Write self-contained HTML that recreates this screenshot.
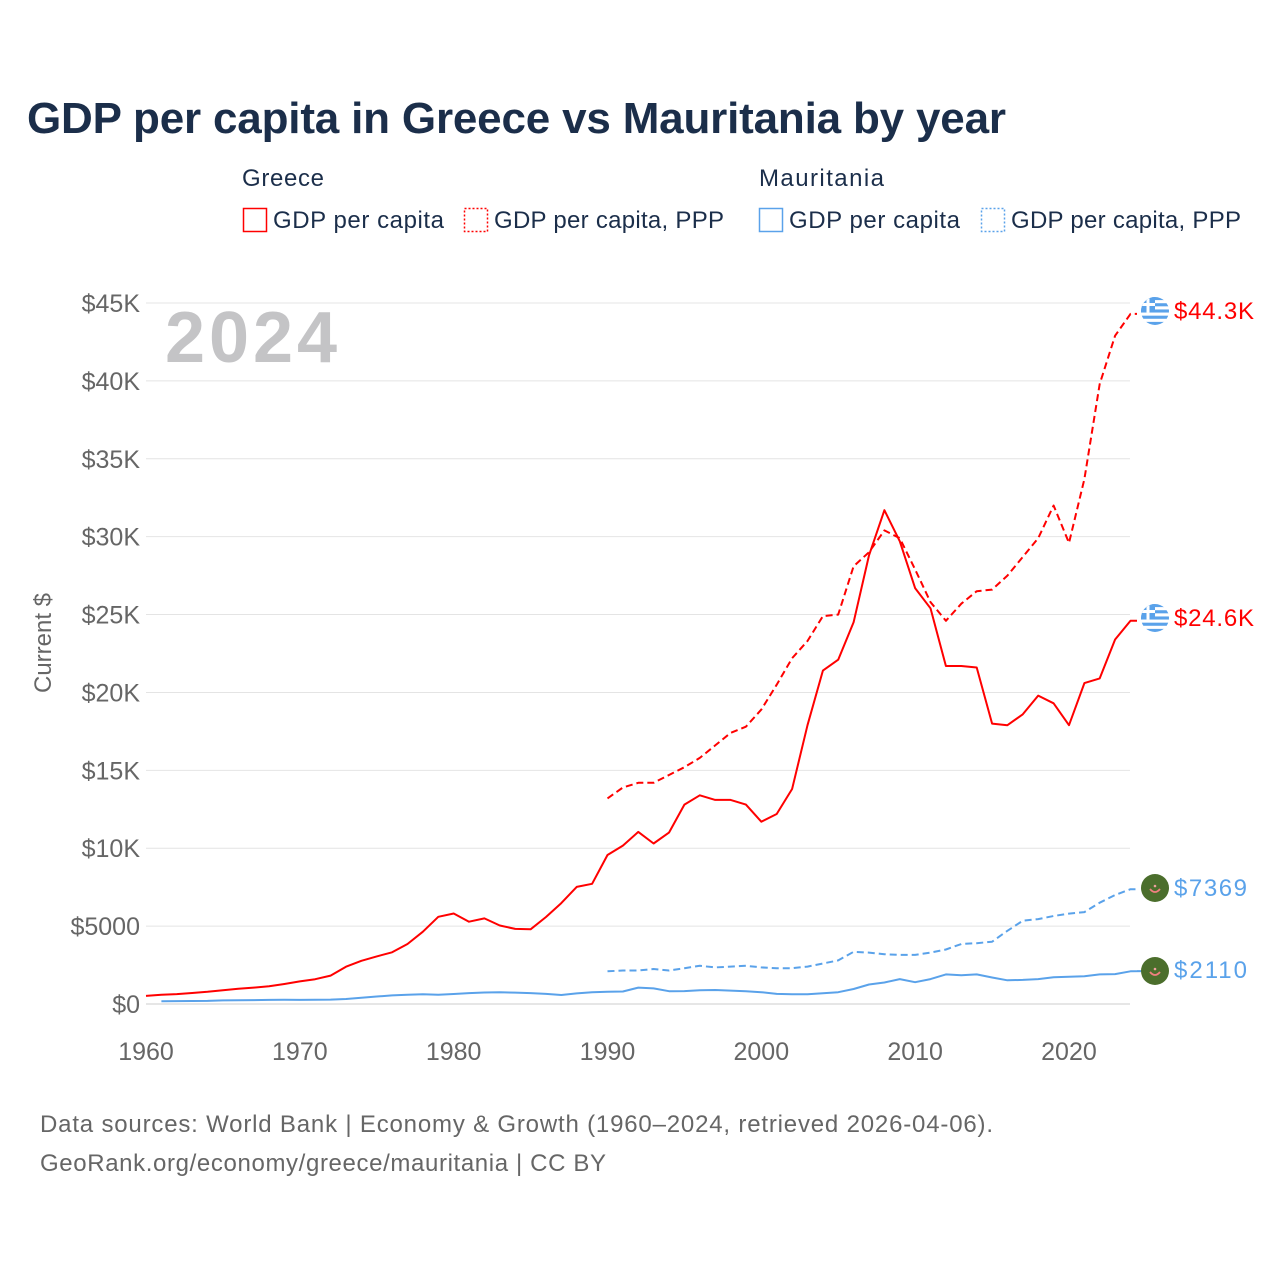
<!DOCTYPE html>
<html><head><meta charset="utf-8"><style>
body{margin:0;background:#fff;}
svg text{font-family:"Liberation Sans",sans-serif;}
</style></head><body>
<svg id="s" width="1280" height="1280" xmlns="http://www.w3.org/2000/svg">
<rect width="1280" height="1280" fill="#fff"/>
<text x="27" y="133" font-size="44" font-weight="bold" fill="#1b2e4a" textLength="979">GDP per capita in Greece vs Mauritania by year</text>
<g font-size="24" fill="#1b2e4a">
<text x="242" y="186" textLength="82">Greece</text>
<text x="759" y="186" textLength="125">Mauritania</text>
<rect x="243.5" y="208.5" width="23" height="23" fill="none" stroke="#f00" stroke-width="1.5"/>
<text x="273" y="228" textLength="171">GDP per capita</text>
<rect x="464.5" y="208.5" width="23" height="23" fill="none" stroke="#f00" stroke-width="1.5" stroke-dasharray="2,2"/>
<text x="494" y="228" textLength="230">GDP per capita, PPP</text>
<rect x="759.5" y="208.5" width="23" height="23" fill="none" stroke="#5aa2ea" stroke-width="1.5"/>
<text x="789" y="228" textLength="171">GDP per capita</text>
<rect x="981.5" y="208.5" width="23" height="23" fill="none" stroke="#5aa2ea" stroke-width="1.5" stroke-dasharray="2,2"/>
<text x="1011" y="228" textLength="230">GDP per capita, PPP</text>
</g>
<g id="grid"></g>
<text x="165" y="362" font-size="72" font-weight="bold" fill="#c4c4c6" textLength="172">2024</text>
<text transform="translate(51,643) rotate(-90)" font-size="24" fill="#666" text-anchor="middle">Current $</text>
<g id="lines"></g>
<g font-size="24">
<text x="1174" y="319" fill="#f00" textLength="80">$44.3K</text>
<text x="1174" y="626" fill="#f00" textLength="80">$24.6K</text>
<text x="1174" y="896" fill="#5aa2ea" textLength="73">$7369</text>
<text x="1174" y="978" fill="#5aa2ea" textLength="73">$2110</text>
</g>
<text x="40" y="1132" font-size="24" fill="#666" textLength="953">Data sources: World Bank | Economy &amp; Growth (1960–2024, retrieved 2026-04-06).</text>
<text x="40" y="1171" font-size="24" fill="#666" textLength="566">GeoRank.org/economy/greece/mauritania | CC BY</text>
</svg>
<script>
const NS="http://www.w3.org/2000/svg";
const X=y=>146+(y-1960)*15.383, Y=v=>1004-v*(701/45000);
const g=document.getElementById('grid'),L=document.getElementById('lines');
function el(p,t,a){const e=document.createElementNS(NS,t);for(const k in a)e.setAttribute(k,a[k]);p.appendChild(e);return e;}
for(let i=0;i<=9;i++){const v=i*5000,y=Y(v);
el(g,'line',{x1:146,x2:1130,y1:y,y2:y,stroke:i?'#e4e4e4':'#ccc','stroke-width':1});
const t=el(g,'text',{x:140,y:y+9,'font-size':25,fill:'#666','text-anchor':'end'});
t.textContent=i==0?'$0':i==1?'$5000':'$'+(i*5)+'K';}
for(let yr=1960;yr<=2020;yr+=10){const t=el(g,'text',{x:X(yr),y:1060,'font-size':25,fill:'#666','text-anchor':'middle'});t.textContent=yr;}
const gr=[520,597,637,706,784,883,974,1050,1134,1282,1452,1593,1821,2395,2776,3055,3322,3853,4643,5599,5807,5285,5496,5041,4823,4798,5588,6479,7514,7717,9565,10170,11050,10300,11000,12800,13400,13100,13100,12800,11700,12200,13800,17900,21400,22100,24500,28800,31700,29700,26700,25400,21700,21700,21600,18000,17900,18600,19800,19300,17900,20600,20900,23400,24600];
const grp=[13200,13900,14200,14200,14700,15200,15800,16600,17400,17800,18900,20500,22200,23300,24900,25000,28100,29000,30400,29900,27900,25800,24600,25700,26500,26600,27500,28700,29900,32000,29600,33700,39800,42900,44300];
const mr=[180,185,190,200,230,240,250,260,270,260,270,280,320,400,480,550,600,620,600,640,700,740,750,730,700,650,580,680,760,790,800,1050,1000,820,830,880,900,860,820,760,650,620,620,690,760,960,1250,1380,1600,1400,1600,1900,1850,1900,1700,1520,1550,1600,1720,1750,1780,1900,1920,2100,2110];
const mrp=[2100,2150,2150,2250,2150,2300,2450,2350,2400,2450,2350,2300,2300,2400,2600,2800,3350,3300,3200,3150,3150,3300,3500,3850,3900,4000,4700,5350,5450,5650,5800,5900,6500,7000,7369];
function line(d,start,col,dash){let p=d.map((v,i)=>X(start+i).toFixed(1)+','+Y(v).toFixed(1));p.push('1137,'+Y(d[d.length-1]).toFixed(1));
el(L,'polyline',{points:p.join(' '),fill:'none',stroke:col,'stroke-width':2,'stroke-dasharray':dash||'none','stroke-linejoin':'round'});}
line(mr,1961,'#5aa2ea');line(mrp,1990,'#5aa2ea','7,4');line(gr,1960,'#f00');line(grp,1990,'#f00','7,4');
function gflag(cy){const c=el(L,'clipPath',{id:'c'+cy});el(c,'circle',{cx:1155,cy:cy,r:14});
const gg=el(L,'g',{'clip-path':'url(#c'+cy+')'});
for(let i=0;i<9;i++)el(gg,'rect',{x:1141,y:cy-14+i*28/9,width:28,height:28/9+0.3,fill:i%2?'#fff':'#5aa2ea'});
el(gg,'rect',{x:1141,y:cy-14,width:14,height:15.5,fill:'#5aa2ea'});
el(gg,'rect',{x:1141,y:cy-8,width:14,height:3,fill:'#fff'});el(gg,'rect',{x:1146.5,y:cy-14,width:3,height:15.5,fill:'#fff'});}
gflag(311);gflag(618);
function mflag(cy){el(L,'circle',{cx:1155,cy:cy,r:14,fill:'#4b6e2c'});
el(L,'path',{d:`M1150 ${cy+1} Q1155 ${cy+7} 1160 ${cy+1}`,fill:'none',stroke:'#f08080','stroke-width':1.8});
el(L,'circle',{cx:1155,cy:cy-2,r:1.3,fill:'#f0a0a0'});}
mflag(888);mflag(971);
</script>
</body></html>
